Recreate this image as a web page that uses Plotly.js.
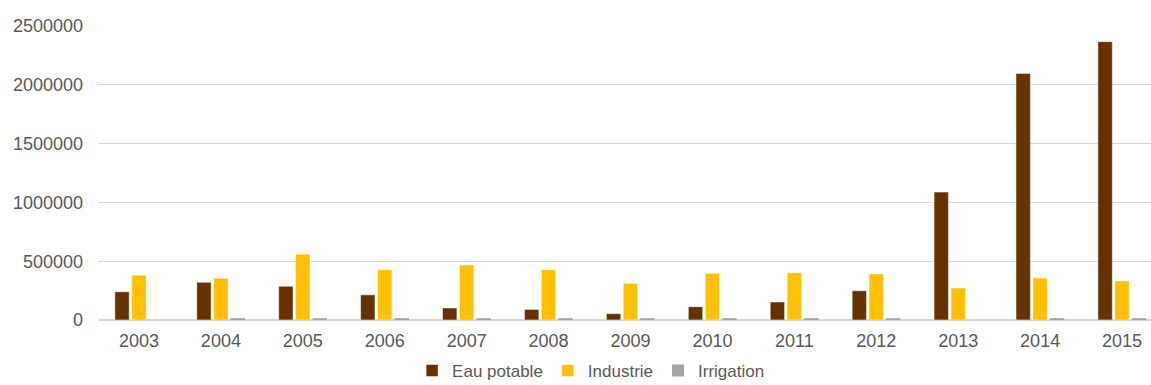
<!DOCTYPE html>
<html>
<head>
<meta charset="utf-8">
<script src="https://cdn.plot.ly/plotly-3.0.1.min.js"></script>
<style>html,body{margin:0;padding:0;background:#fff;overflow:hidden;}#wrap{width:1151px;height:385px;overflow:hidden;}#chart{width:1163px;height:385px;}</style>
</head>
<body>
<div id="wrap"><div id="chart"></div></div>
<script>
const years = ['2003','2004','2005','2006','2007','2008','2009','2010','2011','2012','2013','2014','2015'];
const eauPotable = [240000, 321000, 287000, 214000, 102000, 90000, 54000, 113000, 153000, 249000, 1088000, 2097000, 2367000];
const industrie = [381000, 355000, 560000, 427000, 468000, 427000, 312000, 397000, 402000, 391000, 272000, 357000, 332000];
const irrigation = [0, 16000, 16000, 16000, 16000, 16000, 16000, 16000, 16000, 16000, 0, 16000, 16000];
const seriesNames = ['Eau potable', 'Industrie', 'Irrigation'];
const yTicks = [0, 500000, 1000000, 1500000, 2000000, 2500000];

const colors = ['#663300', '#FFC000', '#A5A5A5'];
const allSeries = [eauPotable, industrie, irrigation];
const traces = allSeries.map((vals, i) => ({
  type: 'bar',
  name: seriesNames[i],
  x: years,
  y: vals,
  marker: {color: colors[i], line: {color: '#ffffff', width: i === 2 ? 0 : 0.5}},
  hoverinfo: 'x+y'
}));

const font = {family: '"Liberation Sans", Arial, sans-serif', size: 18, color: '#595959'};
const legendFont = {family: '"Liberation Sans", Arial, sans-serif', size: 17, color: '#595959'};
const layout = {
  width: 1163, height: 385,
  margin: {l: 98, r: 0, t: 26, b: 65, autoexpand: false},
  paper_bgcolor: '#ffffff', plot_bgcolor: '#ffffff',
  font: font,
  barmode: 'group',
  bargap: 0.38,
  bargroupgap: 0.15,
  showlegend: true,
  legend: {orientation: 'h', x: 0.463, xanchor: 'center', y: -0.112, yanchor: 'top',
           font: legendFont, traceorder: 'normal', itemwidth: 30},
  xaxis: {type: 'category', showgrid: false, showline: false, zeroline: false,
          ticks: '', tickfont: font, ticklabelstandoff: 8, fixedrange: true},
  yaxis: {range: [0, 2500000], tickvals: yTicks, ticktext: yTicks.map(v => String(v)),
          showgrid: true, gridcolor: '#d9d9d9', gridwidth: 1.3,
          zeroline: true, zerolinecolor: '#d9d9d9', zerolinewidth: 1.3,
          showline: false, ticks: '', tickfont: font, ticklabelstandoff: 14, fixedrange: true}
};
Plotly.newPlot('chart', traces, layout, {displayModeBar: false, staticPlot: true});
</script>
</body>
</html>
